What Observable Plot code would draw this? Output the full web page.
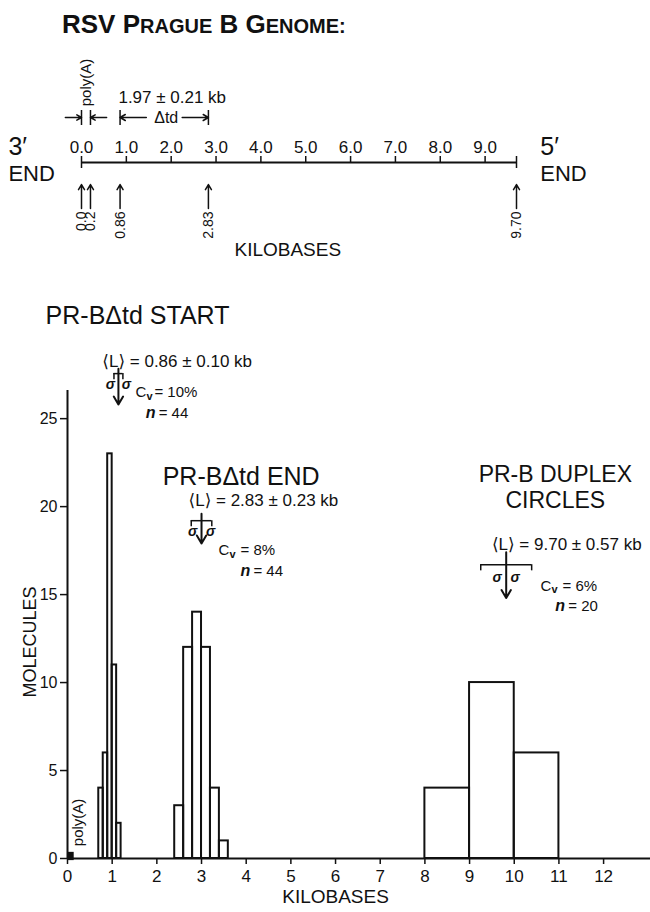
<!DOCTYPE html>
<html><head><meta charset="utf-8">
<script src="https://cdn.jsdelivr.net/npm/d3@7"></script>
<script src="https://cdn.jsdelivr.net/npm/@observablehq/plot@0.6"></script>
<style>
body{margin:0;background:#fff;font-family:"Liberation Sans",Arial,"DejaVu Sans",sans-serif;}
#wrap{position:relative;width:650px;height:912px;overflow:hidden;}
#title{position:absolute;left:62px;top:11px;font-weight:bold;font-size:26px;line-height:1;color:#111;white-space:nowrap;}
#title .sc{font-size:20px;}
svg{display:block;}
</style></head>
<body><div id="wrap"><div id="title">RSV P<span class="sc">RAGUE</span> B G<span class="sc">ENOME:</span></div><div id="top"></div><div id="hist"></div></div>
<script>
const FONT = '"Liberation Sans", Arial, "DejaVu Sans", sans-serif';
const INK = "#111";

// ---------- data: genome map ----------
const genomeLengthKb = 9.70;
const genomeTicks = [0, 1, 2, 3, 4, 5, 6, 7, 8, 9];
const genomeTickLabels = ["0.0", "1.0", "2.0", "3.0", "4.0", "5.0", "6.0", "7.0", "8.0", "9.0"];
const siteKb = [0.0, 0.2, 0.86, 2.83, 9.70];
const siteLabels = ["0.0", "0.2", "0.86", "2.83", "9.70"];
const polyARange = [0.0, 0.2];
const deltaTdRange = [0.86, 2.83];
const deltaTdLength = 1.97;
const deltaTdSd = 0.21;

// ---------- data: histograms ----------
const startBinStart = [0.7, 0.8, 0.9, 1.0, 1.1];
const startCounts = [4, 6, 23, 11, 2];
const endBinStart = [2.4, 2.6, 2.8, 3.0, 3.2, 3.4];
const endCounts = [3, 12, 14, 12, 4, 1];
const duplexBinStart = [8, 9, 10];
const duplexCounts = [4, 10, 6];
const binWidthKb = [0.1, 0.2, 1.0];
const groupTitles = ["PR-BΔtd START", "PR-BΔtd END", "PR-B DUPLEX"];
const groupSubtitles = ["", "", "CIRCLES"];
const meanKb = [0.86, 2.83, 9.70];
const sdKb = [0.10, 0.23, 0.57];
const cvPercent = [10, 8, 6];
const nMolecules = [44, 44, 20];
const xTicks = [0, 1, 2, 3, 4, 5, 6, 7, 8, 9, 10, 11, 12];
const yTicks = [0, 5, 10, 15, 20, 25];
const polyAHistKb = [0, 0.15];

// ---------- top genome map ----------
const mid = (deltaTdRange[0] + deltaTdRange[1]) / 2;
const topPlot = Plot.plot({
  width: 650, height: 290,
  marginLeft: 81, marginRight: 134, marginTop: 0, marginBottom: 0,
  x: {domain: [0, genomeLengthKb], axis: null},
  y: {type: "linear", domain: [0, 290], range: [0, 290], axis: null},
  style: {fontFamily: FONT, color: INK, background: "transparent", overflow: "visible"},
  marks: [
    Plot.text(["poly(A)"], {x: (polyARange[0] + polyARange[1]) / 2, y: 82, text: d => d, rotate: -90, fontSize: 15, fill: INK}),
    Plot.text([deltaTdLength], {x: mid, dx: 8, y: 97, text: d => `${d.toFixed(2)} ± ${deltaTdSd.toFixed(2)} kb`, fontSize: 17, fill: INK}),
    Plot.ruleX([...polyARange, ...deltaTdRange], {x: d => d, y1: 110, y2: 125, stroke: INK, strokeWidth: 1.5}),
    Plot.arrow([polyARange[0]], {x1: d => d - 0.36, x2: d => d, y1: 117, y2: 117, headLength: 6, stroke: INK, strokeWidth: 1.5}),
    Plot.arrow([polyARange[1]], {x1: d => d + 0.36, x2: d => d, y1: 117, y2: 117, headLength: 6, stroke: INK, strokeWidth: 1.5}),
    Plot.arrow([deltaTdRange[0]], {x1: mid - 0.4, x2: d => d, y1: 117, y2: 117, headLength: 6, stroke: INK, strokeWidth: 1.5}),
    Plot.arrow([deltaTdRange[1]], {x1: mid + 0.4, x2: d => d, y1: 117, y2: 117, headLength: 6, stroke: INK, strokeWidth: 1.5}),
    Plot.text(["Δtd"], {x: mid, dx: 2, y: 117, text: d => d, fontSize: 16, fill: INK}),
    Plot.text(genomeTicks, {x: d => d, y: 147, text: (d, i) => genomeTickLabels[i], fontSize: 17, fill: INK}),
    Plot.ruleY([162], {x1: 0, x2: genomeLengthKb, stroke: INK, strokeWidth: 2}),
    Plot.ruleX(genomeTicks.slice(1), {x: d => d, y1: 156, y2: 162, stroke: INK, strokeWidth: 1.5}),
    Plot.ruleX([0, genomeLengthKb], {x: d => d, y1: 156, y2: 168, stroke: INK, strokeWidth: 1.5}),
    Plot.text(["3′"], {x: -1.63, y: 146, text: d => d, textAnchor: "start", fontSize: 25, fill: INK}),
    Plot.text(["END"], {x: -1.63, y: 173, text: d => d, textAnchor: "start", fontSize: 22, fill: INK}),
    Plot.text(["5′"], {x: 10.23, y: 146, text: d => d, textAnchor: "start", fontSize: 25, fill: INK}),
    Plot.text(["END"], {x: 10.23, y: 173, text: d => d, textAnchor: "start", fontSize: 22, fill: INK}),
    Plot.arrow(siteKb, {x1: d => d, x2: d => d, y1: 208, y2: 184, headLength: 6, stroke: INK, strokeWidth: 1.5}),
    Plot.text(siteKb, {x: d => d, y: 211, text: (d, i) => siteLabels[i], rotate: -90, textAnchor: "end", fontSize: 14, fill: INK}),
    Plot.text(["KILOBASES"], {x: 4.6, y: 249, text: d => d, fontSize: 19, fill: INK})
  ]
});
document.getElementById("top").appendChild(topPlot);

// ---------- histogram ----------
const bars = [
  ...startBinStart.map((b, i) => ({x1: b, x2: b + binWidthKb[0], count: startCounts[i]})),
  ...endBinStart.map((b, i) => ({x1: b, x2: b + binWidthKb[1], count: endCounts[i]})),
  ...duplexBinStart.map((b, i) => ({x1: b, x2: b + binWidthKb[2], count: duplexCounts[i]}))
];

// annotation placement (layout only; kb / molecule units)
const PX = 583 / 13.05; // pixels per kb, used to turn small pixel gaps into kb
const layout = [
  {tx: -0.49, ty: 30.85, lx: 0.78, ly: 28.24, ax: 1.14, a1: 27.84, a2: 25.8, by: 27.56, sy: 26.95, sdx: 8, cx: 1.52, cy: 26.5, eqdx: 19, nx: 1.75, ny: 25.3},
  {tx: 2.13, ty: 21.68, lx: 2.71, ly: 20.35, ax: 3.0, a1: 19.6, a2: 17.9, by: 19.2, sy: 18.6, sdx: 9, cx: 3.38, cy: 17.5, eqdx: 22, nx: 3.87, ny: 16.35},
  {tx: 10.92, ty: 21.8, lx: 9.5, ly: 17.84, ax: 9.82, a1: 17.4, a2: 14.8, by: 16.7, sy: 15.97, sdx: 9, cx: 10.59, cy: 15.5, eqdx: 22, nx: 10.92, ny: 14.35}
];
const groups = layout.map((l, i) => ({
  ...l, title: groupTitles[i], subtitle: groupSubtitles[i], mean: meanKb[i], sd: sdKb[i], cv: cvPercent[i], n: nMolecules[i],
  sLeft: l.ax - l.sdx / PX, sRight: l.ax + l.sdx / PX,
  vx: l.cx + 11 / PX, eqx: l.cx + l.eqdx / PX, nEqx: l.nx + 13 / PX,
  sty: l.ty - 26 / 17.59
}));
const sideTitles = groups.slice(0, 2);
const centerTitles = groups.slice(2);

const histPlot = Plot.plot({
  width: 650, height: 622,
  marginLeft: 67, marginRight: 0, marginTop: 100, marginBottom: 54,
  x: {domain: [0, 13.05]},
  y: {domain: [0, 26.6]},
  style: {fontFamily: FONT, color: INK, background: "transparent", overflow: "visible"},
  marks: [
    Plot.rect(bars, {x1: "x1", x2: "x2", y1: 0, y2: "count", fill: "none", stroke: INK, strokeWidth: 2}),
    Plot.rect([polyAHistKb], {x1: d => d[0], x2: d => d[1], y1: -0.12, y2: 0.35, fill: INK}),
    Plot.text(["poly(A)"], {x: 0.25, y: 2.05, text: d => d, rotate: -90, fontSize: 15, fill: INK}),
    Plot.ruleY([0], {x1: 0, x2: 13.05, stroke: INK, strokeWidth: 2}),
    Plot.ruleX([0], {y1: 0, y2: 26.6, stroke: INK, strokeWidth: 2}),
    Plot.axisX({ticks: xTicks, tickSize: 6, tickPadding: 5, fontSize: 17, tickFormat: d => String(d), label: null, strokeWidth: 1.5}),
    Plot.axisY({ticks: yTicks, tickSize: 7, tickPadding: 3, fontSize: 16, tickFormat: d => String(d), label: null, strokeWidth: 1.5}),
    Plot.text(["KILOBASES"], {x: 6.0, y: -2.2, text: d => d, fontSize: 19, fill: INK}),
    Plot.text(["MOLECULES"], {x: -0.83, y: 12.3, text: d => d, rotate: -90, fontSize: 18, fill: INK}),
    // annotations
    Plot.text(sideTitles, {x: "tx", y: "ty", text: "title", textAnchor: "start", fontSize: 25, fill: INK}),
    Plot.text(centerTitles, {x: "tx", y: "ty", text: "title", textAnchor: "middle", fontSize: 23, fill: INK}),
    Plot.text(centerTitles, {x: "tx", y: "sty", text: "subtitle", textAnchor: "middle", fontSize: 23, fill: INK}),
    Plot.text(groups, {x: "lx", y: "ly", text: d => `⟨L⟩ = ${d.mean.toFixed(2)} ± ${d.sd.toFixed(2)} kb`, textAnchor: "start", fontSize: 17, fill: INK}),
    Plot.arrow(groups, {x1: "ax", x2: "ax", y1: "a1", y2: "a2", headLength: 7, stroke: INK, strokeWidth: 2}),
    Plot.ruleY(groups, {y: "by", x1: d => d.ax - d.sd, x2: d => d.ax + d.sd, stroke: INK, strokeWidth: 1.5}),
    Plot.ruleX(groups, {x: d => d.ax - d.sd, y1: "by", y2: d => d.by - 0.35, stroke: INK, strokeWidth: 1.5}),
    Plot.ruleX(groups, {x: d => d.ax + d.sd, y1: "by", y2: d => d.by - 0.35, stroke: INK, strokeWidth: 1.5}),
    Plot.text(groups, {x: "sLeft", y: "sy", text: () => "σ", fontSize: 14, fontWeight: "bold", fontStyle: "italic", fill: INK}),
    Plot.text(groups, {x: "sRight", y: "sy", text: () => "σ", fontSize: 14, fontWeight: "bold", fontStyle: "italic", fill: INK}),
    Plot.text(groups, {x: "cx", y: "cy", text: () => "C", textAnchor: "start", fontSize: 15, fill: INK}),
    Plot.text(groups, {x: "vx", y: "cy", dy: 4, text: () => "v", textAnchor: "start", fontSize: 11, fontWeight: "bold", fill: INK}),
    Plot.text(groups, {x: "eqx", y: "cy", text: d => `= ${d.cv}%`, textAnchor: "start", fontSize: 15, fill: INK}),
    Plot.text(groups, {x: "nx", y: "ny", text: () => "n", textAnchor: "start", fontSize: 16, fontWeight: "bold", fontStyle: "italic", fill: INK}),
    Plot.text(groups, {x: "nEqx", y: "ny", text: d => `= ${d.n}`, textAnchor: "start", fontSize: 15, fill: INK})
  ]
});
document.getElementById("hist").appendChild(histPlot);
</script>
</body></html>
